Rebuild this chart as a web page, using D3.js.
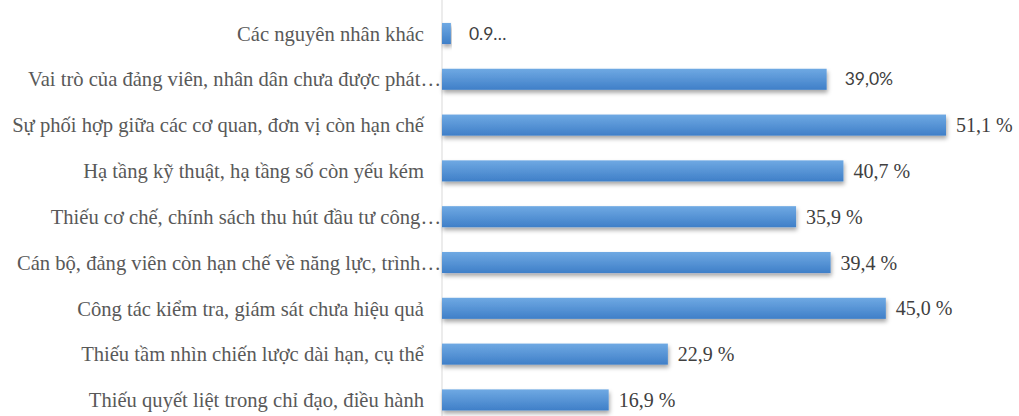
<!DOCTYPE html>
<html>
<head>
<meta charset="utf-8">
<script src="https://cdn.jsdelivr.net/npm/d3@7/dist/d3.min.js"></script>
<style>
  body { margin: 0; background: #fff; }
</style>
</head>
<body>
<script>
// categories top to bottom
var categories = [
  "Các nguyên nhân khác",
  "Vai trò của đảng viên, nhân dân chưa được phát…",
  "Sự phối hợp giữa các cơ quan, đơn vị còn hạn chế",
  "Hạ tầng kỹ thuật, hạ tầng số còn yếu kém",
  "Thiếu cơ chế, chính sách thu hút đầu tư công…",
  "Cán bộ, đảng viên còn hạn chế về năng lực, trình…",
  "Công tác kiểm tra, giám sát chưa hiệu quả",
  "Thiếu tầm nhìn chiến lược dài hạn, cụ thể",
  "Thiếu quyết liệt trong chỉ đạo, điều hành"
];
var values = [0.9, 39.0, 51.1, 40.7, 35.9, 39.4, 45.0, 22.9, 16.9];
var valueLabels = ["0.9…", "39,0%", "51,1 %", "40,7 %", "35,9 %", "39,4 %", "45,0 %", "22,9 %", "16,9 %"];
// which labels use the sans font (others are serif)
var sansLabels = [true, true, false, false, false, false, false, false, false];

var w = 1019, h = 416;
var x0 = 442;

var svg = d3.select("body").append("svg")
  .attr("width", w)
  .attr("height", h);

var defs = svg.append("defs");
var grad = defs.append("linearGradient")
  .attr("id", "barGrad")
  .attr("x1", 0).attr("y1", 0).attr("x2", 0).attr("y2", 1);
grad.append("stop").attr("offset", "0%").attr("stop-color", "#6fa9e3");
grad.append("stop").attr("offset", "100%").attr("stop-color", "#3f7fc8");

var shadow = defs.append("filter")
  .attr("id", "shadow")
  .attr("x", "-5%").attr("y", "-30%").attr("width", "115%").attr("height", "180%");
shadow.append("feDropShadow")
  .attr("dx", 1).attr("dy", 3).attr("stdDeviation", 2)
  .attr("flood-color", "#000").attr("flood-opacity", 0.35);

var xScale = d3.scaleLinear()
  .domain([0, 51.1])
  .range([x0, 946]);

var yScale = d3.scaleBand()
  .domain(categories)
  .range([-1.8, 435.2])
  .padding(0.54);

// axis line
svg.append("line")
  .attr("x1", x0).attr("x2", x0)
  .attr("y1", 0).attr("y2", h)
  .attr("stroke", "#d9d9d9")
  .attr("stroke-width", 1);

svg.selectAll("rect.bar")
  .data(values)
  .enter()
  .append("rect")
  .attr("class", "bar")
  .attr("x", x0)
  .attr("y", function(d, i) { return yScale(categories[i]); })
  .attr("width", function(d) { return xScale(d) - x0; })
  .attr("height", yScale.bandwidth())
  .attr("fill", "url(#barGrad)")
  .attr("filter", "url(#shadow)");

svg.selectAll("text.cat")
  .data(categories)
  .enter()
  .append("text")
  .attr("class", "cat")
  .text(function(d) { return d; })
  .attr("x", function(d) { return d.slice(-1) == "…" ? 441 : 424; })
  .attr("y", function(d) { return yScale(d) + yScale.bandwidth() / 2; })
  .attr("dy", "0.35em")
  .attr("text-anchor", "end")
  .attr("fill", "#595959")
  .style("font-size", "20.6px")
  .style("font-family", "'Liberation Serif', 'Times New Roman', serif");

svg.selectAll("text.val")
  .data(values)
  .enter()
  .append("text")
  .attr("class", "val")
  .text(function(d, i) { return valueLabels[i]; })
  .attr("x", function(d, i) { return xScale(d) + (sansLabels[i] ? 18 : 10); })
  .attr("y", function(d, i) { return yScale(categories[i]) + yScale.bandwidth() / 2; })
  .attr("dy", "0.35em")
  .attr("fill", "#404040")
  .style("font-size", function(d, i) { return sansLabels[i] ? "17.5px" : "20px"; })
  .style("font-family", function(d, i) { return sansLabels[i] ? "Lato, sans-serif" : "'Liberation Serif', 'Times New Roman', serif"; });
</script>
</body>
</html>
